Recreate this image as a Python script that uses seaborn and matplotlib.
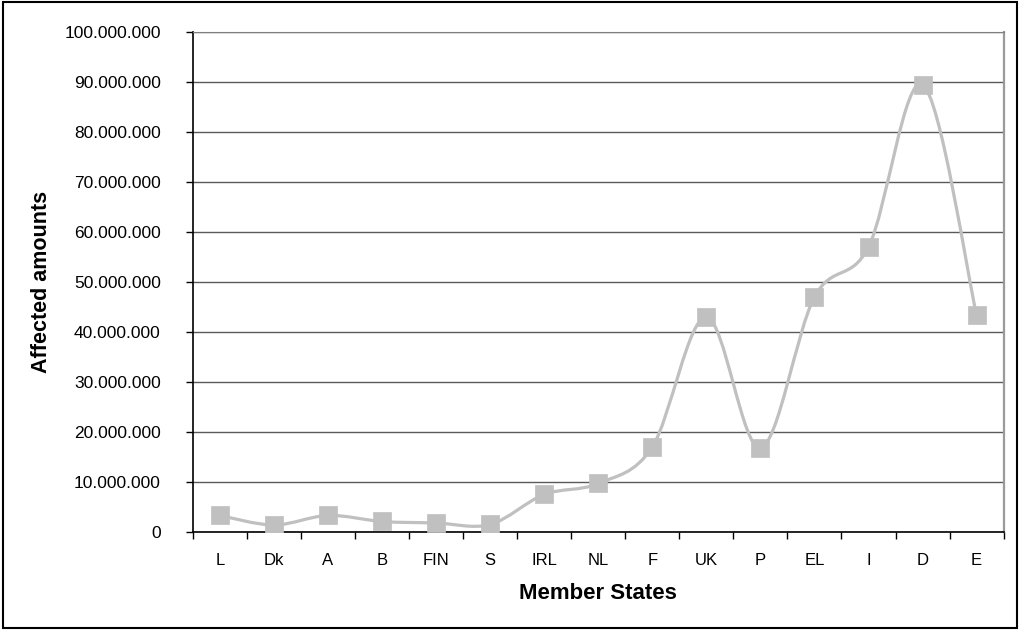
import numpy as np
import matplotlib
matplotlib.use("Agg")
import matplotlib.pyplot as plt
from matplotlib.path import Path
from matplotlib.patches import PathPatch, Rectangle
from matplotlib.ticker import FuncFormatter, MultipleLocator
import seaborn as sns

# data
states = ["L", "Dk", "A", "B", "FIN", "S", "IRL", "NL", "F", "UK", "P", "EL", "I", "D", "E"]
amounts = [3300000, 1400000, 3300000, 2100000, 1800000, 1500000, 7500000, 9700000,
           17000000, 43000000, 16800000, 47000000, 57000000, 89500000, 43300000]

sns.set_style("white")
plt.rcParams["font.family"] = ["Liberation Sans", "DejaVu Sans"]
plt.rcParams["text.color"] = "black"
plt.rcParams["xtick.color"] = "black"
plt.rcParams["ytick.color"] = "black"
plt.rcParams["axes.labelcolor"] = "black"

fig = plt.figure(figsize=(10.2, 6.3), dpi=100)
ax = fig.add_axes([0.189, 0.1556, 0.795, 0.7936])

grey = "#c0c0c0"
pos = np.arange(len(states))
vals = np.array(amounts, dtype=float)

# smoothed line (Excel style bezier through the points)
verts = [(pos[0], vals[0])]
codes = [Path.MOVETO]
n = len(pos)
for i in range(n - 1):
    p0 = np.array([pos[max(i - 1, 0)], vals[max(i - 1, 0)]])
    p1 = np.array([pos[i], vals[i]])
    p2 = np.array([pos[i + 1], vals[i + 1]])
    p3 = np.array([pos[min(i + 2, n - 1)], vals[min(i + 2, n - 1)]])
    c1 = p1 + (p2 - p0) / 6.0
    c2 = p2 - (p3 - p1) / 6.0
    verts += [tuple(c1), tuple(c2), tuple(p2)]
    codes += [Path.CURVE4] * 3
ax.add_patch(PathPatch(Path(verts, codes), facecolor="none", edgecolor=grey, lw=2.3, zorder=3))

sns.scatterplot(x=pos, y=vals, marker="s", s=150, color=grey, edgecolor=grey, linewidth=0.5,
                ax=ax, zorder=4, legend=False)

ax.set_xlim(-0.5, n - 0.5)
ax.set_ylim(0, 100000000)
ax.yaxis.set_major_locator(MultipleLocator(10000000))
ax.yaxis.set_major_formatter(FuncFormatter(lambda v, p: f"{int(v):,}".replace(",", ".")))
ax.grid(axis="y", color="#5a5a5a", lw=1)
ax.set_axisbelow(True)

ax.set_xticks(pos)
ax.set_xticklabels(states)
ax.set_xticks(np.arange(-0.5, n, 1), minor=True)
ax.tick_params(axis="x", which="major", length=0, pad=15, labelsize=12)
ax.tick_params(axis="x", which="minor", length=5, width=1, direction="out", color="black", bottom=True)
ax.tick_params(axis="y", length=5, width=1, direction="out", color="black", left=True, pad=18, labelsize=12.5)

for side in ["left", "bottom"]:
    ax.spines[side].set_color("black")
    ax.spines[side].set_linewidth(1.2)
ax.spines["top"].set_color("#808080")
ax.spines["right"].set_color("#9a9a9a")
ax.spines["right"].set_linewidth(1.6)

ax.set_xlabel("Member States", fontsize=16, fontweight="bold", labelpad=11)
ax.set_ylabel("Affected amounts", fontsize=15.5, fontweight="bold", labelpad=9)

fig.patches.append(Rectangle((0.003, 0.003), 0.994, 0.994, transform=fig.transFigure,
                             fill=False, edgecolor="black", lw=1.5))

fig.savefig("out.png", dpi=100)
